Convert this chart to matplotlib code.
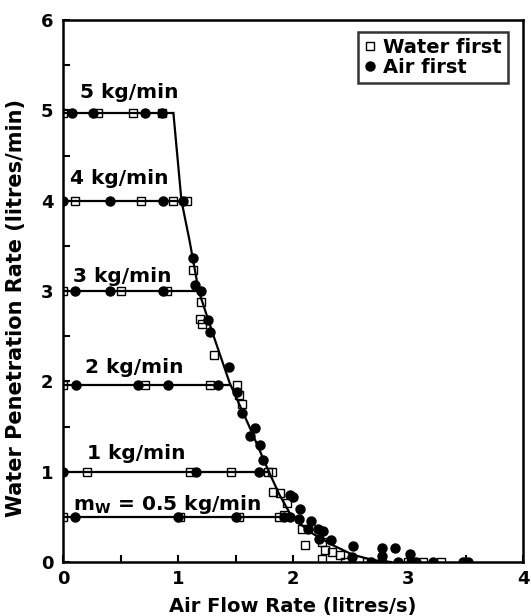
import numpy as np
import matplotlib
matplotlib.use("Agg")
import matplotlib.pyplot as plt
from matplotlib.ticker import MultipleLocator

plt.rcParams['font.family'] = ['DejaVu Sans']
plt.rcParams['font.weight'] = 'bold'
plt.rcParams['mathtext.default'] = 'bf'

# water flow levels (kg/min) and the plateau penetration rate for each
levels = ['5 kg/min', '4 kg/min', '3 kg/min', '2 kg/min', '1 kg/min', 'm$_W$ = 0.5 kg/min']
level_y = [4.97, 4.0, 3.0, 1.96, 1.0, 0.5]
level_end = [0.96, 1.03, 1.18, 1.45, 1.79, 1.99]   # where the flat line meets the curve
label_pos = [(0.145, 5.14), (0.064, 4.18), (0.085, 3.10), (0.19, 2.09), (0.21, 1.14), (0.085, 0.575)]

# water first (squares) on the plateaus
wf_plateau = [
    [0.0, 0.30, 0.61, 0.86],
    [0.10, 0.68, 0.96, 1.08],
    [0.0, 0.50, 0.90],
    [0.0, 0.71, 1.28, 1.51],
    [0.21, 1.10, 1.46, 1.78, 1.82],
    [0.0, 1.02, 1.53, 1.88],
]
# air first (circles) on the plateaus
af_plateau = [
    [0.08, 0.26, 0.71, 0.86],
    [0.0, 0.41, 0.87, 1.04],
    [0.10, 0.41, 0.87, 1.20],
    [0.11, 0.65, 0.91, 1.35],
    [0.0, 1.16, 1.70],
    [0.10, 1.0, 1.50, 1.92, 1.97],
]

# points along the falling branch
wf_x = [1.13, 1.20, 1.19, 1.21, 1.31, 1.53, 1.56, 1.83, 1.89, 1.95, 1.92, 2.08, 2.10,
        2.25, 2.28, 2.34, 2.41, 2.25, 2.45, 2.64, 3.00, 3.13, 3.29]
wf_y = [3.23, 2.88, 2.69, 2.63, 2.29, 1.85, 1.75, 0.78, 0.76, 0.65, 0.52, 0.37, 0.19,
        0.22, 0.13, 0.11, 0.08, 0.03, 0.0, 0.0, 0.0, 0.0, 0.0]
af_x = [1.13, 1.15, 1.26, 1.28, 1.44, 1.51, 1.56, 1.67, 1.63, 1.71, 1.74, 1.97, 2.00,
        2.06, 2.05, 2.16, 2.13, 2.22, 2.26, 2.23, 2.33, 2.52, 2.51, 2.68, 2.77, 2.77,
        2.77, 2.89, 2.91, 3.02, 3.03, 3.07, 3.22, 3.48, 3.52]
af_y = [3.37, 3.07, 2.68, 2.55, 2.16, 1.88, 1.65, 1.48, 1.39, 1.29, 1.13, 0.74, 0.72,
        0.59, 0.48, 0.45, 0.37, 0.37, 0.34, 0.26, 0.24, 0.18, 0.06, 0.0, 0.15, 0.07,
        0.0, 0.15, 0.0, 0.09, 0.0, 0.0, 0.0, 0.0, 0.0]

# fitted flooding curve
curve_x = [0.96, 1.03, 1.10, 1.18, 1.31, 1.45, 1.62, 1.79, 1.88, 1.99, 2.15, 2.34, 2.52, 2.70, 2.85]
curve_y = [4.97, 4.0, 3.56, 3.0, 2.5, 1.98, 1.5, 1.0, 0.75, 0.5, 0.33, 0.19, 0.08, 0.02, 0.0]

fig = plt.figure(figsize=(5.31, 6.16), dpi=100)
ax = fig.add_axes([63/531, 1 - 562/616, 460/531, 542/616])

lw = 1.6
for y, xe in zip(level_y, level_end):
    ax.plot([0, xe], [y, y], color='black', lw=lw, zorder=2)
ax.plot(curve_x, curve_y, color='black', lw=lw, zorder=2)

sq = dict(marker='s', ms=6, mfc='none', mec='black', mew=1.0, ls='none', zorder=3)
ci = dict(marker='o', ms=6.5, mfc='black', mec='black', ls='none', zorder=4)

for xs, y in zip(wf_plateau, level_y):
    ax.plot(xs, [y] * len(xs), **sq)
for xs, y in zip(af_plateau, level_y):
    ax.plot(xs, [y] * len(xs), **ci)
ax.plot(wf_x, wf_y, label='Water first', **sq)
ax.plot(af_x, af_y, label='Air first', **ci)

for txt, (tx, ty) in zip(levels, label_pos):
    ax.text(tx, ty, txt, fontsize=14.5, fontweight='bold', ha='left', va='baseline')

ax.set_xlim(0, 4)
ax.set_ylim(0, 6)
ax.xaxis.set_major_locator(MultipleLocator(1))
ax.xaxis.set_minor_locator(MultipleLocator(0.5))
ax.yaxis.set_major_locator(MultipleLocator(1))
ax.yaxis.set_minor_locator(MultipleLocator(0.5))
ax.tick_params(which='both', direction='in', length=5, width=1.5, top=False, right=False)
ax.tick_params(axis='y', which='major', labelsize=13, pad=7)
ax.tick_params(axis='x', which='major', labelsize=13, pad=6)
for s in ax.spines.values():
    s.set_linewidth(1.8)

ax.set_xlabel('Air Flow Rate (litres/s)', fontsize=14, fontweight='bold', labelpad=6)
ax.set_ylabel('Water Penetration Rate (litres/min)', fontsize=15, fontweight='bold')
ax.yaxis.set_label_coords(-0.08, 0.468)

leg = ax.legend(loc='upper right', bbox_to_anchor=(0.967, 0.978), fontsize=14,
                frameon=True, fancybox=False, edgecolor='black', handlelength=0.6,
                handletextpad=0.4, borderpad=0.3, labelspacing=0.05, borderaxespad=0)
leg.get_frame().set_linewidth(1.8)

fig.savefig('out.png', dpi=100)
